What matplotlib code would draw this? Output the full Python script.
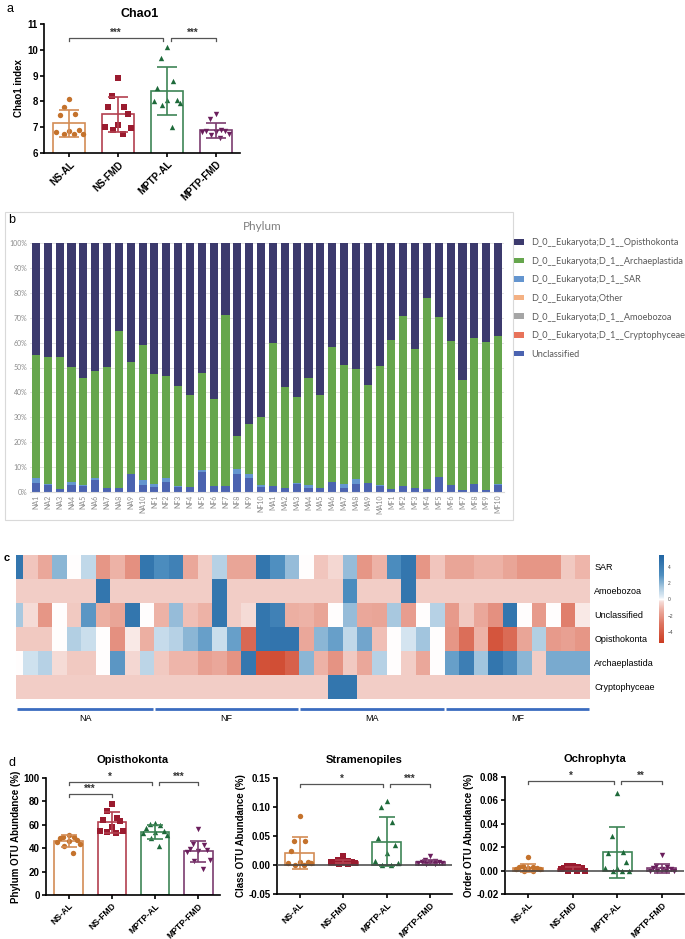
import numpy as np
import matplotlib
matplotlib.use('Agg')
import matplotlib.pyplot as plt
from matplotlib.colors import LinearSegmentedColormap
from matplotlib.patches import Rectangle, Patch

W, H = 685, 939
plt.rcParams['font.family'] = ['Liberation Sans', 'DejaVu Sans']

# ---------------- data ----------------
groups = ['NS-AL', 'NS-FMD', 'MPTP-AL', 'MPTP-FMD']

# panel a: Chao1
chao1_pts = [
    [8.1, 7.78, 7.5, 7.48, 6.88, 6.85, 6.82, 6.73, 6.73, 6.73],
    [8.9, 8.2, 7.8, 7.8, 7.5, 7.1, 7.0, 6.95, 6.9, 6.75],
    [10.1, 9.7, 8.8, 8.5, 8.05, 8.05, 8.0, 7.95, 7.85, 7.0],
    [7.5, 7.3, 6.9, 6.85, 6.85, 6.8, 6.8, 6.75, 6.7, 6.6],
]
chao1_mean = [7.15, 7.5, 8.4, 6.88]
chao1_sd = [0.52, 0.68, 0.92, 0.28]

# panel b: phylum relative abundance (%)
samples = (['NA%d' % i for i in range(1, 11)] + ['NF%d' % i for i in range(1, 11)] +
           ['MA%d' % i for i in range(1, 11)] + ['MF%d' % i for i in range(1, 11)])
unclassified_pct = [3.7, 2.9, 1.2, 2.9, 2.3, 4.8, 1.6, 1.5, 7.1, 2.7,
                    1.9, 3.9, 2.1, 2.0, 7.9, 2.3, 2.5, 7.1, 5.5, 2.0,
                    2.3, 1.6, 3.2, 1.6, 1.5, 3.9, 1.5, 3.1, 3.7, 2.3,
                    1.2, 2.4, 1.6, 1.2, 5.9, 2.7, 0.9, 3.1, 0.7, 2.8]
sar_pct = [2.0, 0.3, 0.2, 1.1, 0.6, 0.8, 0.2, 0.1, 0.1, 2.3,
           1.4, 1.7, 0.2, 0.2, 0.9, 0.1, 0.1, 2.1, 1.6, 0.9,
           0.3, 0.1, 0.4, 1.3, 0.1, 0.2, 1.6, 2.1, 0.1, 0.7,
           0.1, 0.1, 0.1, 0.1, 0.2, 0.1, 0.1, 0.2, 0.1, 0.3]
other_pct = [0.0] * 40
amoebozoa_pct = [0.0] * 40
crypto_pct = [0.0] * 40
archaeplastida_pct = [49.3, 50.9, 52.7, 46.2, 42.9, 43.0, 48.4, 63.0, 45.1, 53.9,
                      44.1, 40.9, 40.3, 36.7, 38.9, 35.1, 68.4, 13.1, 20.4, 27.3,
                      57.3, 40.4, 34.6, 42.8, 37.5, 54.0, 47.9, 44.2, 39.2, 47.5,
                      59.8, 68.1, 55.7, 76.8, 64.1, 57.7, 43.9, 58.5, 59.4, 59.5]

# panel c: heatmap (z-scores)
hm_rows = ['SAR', 'Amoebozoa', 'Unclassified', 'Opisthokonta', 'Archaeplastida', 'Cryptophyceae']
hm_sar = [4.5, -0.8, -1.5, 2, 0, 1, -2, -1.2, -2.2, 4.5,
          3.2, 3.8, -1.5, -0.6, 1.2, -1.6, -1.6, 4.5, 3, 1.8,
          0, -0.8, -0.4, 1.8, -2, -1.2, 3.2, 4.5, -2, -0.8,
          -1.6, -1.6, -1.2, -1.2, -1.6, -2, -2, -2, -0.7, -1.1]
hm_amoebozoa = [-0.6, -0.6, -0.6, -0.6, -0.6, -0.6, 4.5, -0.6, -0.6, -0.6,
                -0.6, -0.6, -0.6, -0.6, 4.5, -0.6, -0.6, -0.6, -0.6, -0.6,
                -0.6, -0.6, -0.6, 3.2, -0.6, -0.6, -0.6, 4.5, -0.6, -0.6,
                -0.6, -0.6, -0.6, -0.6, -0.6, -0.6, -0.6, -0.6, -0.6, -0.6]
hm_unclassified = [1.5, -0.3, -2, 0, -0.7, 2.8, -1.3, -1.6, 4.5, 0,
                   -1.2, 1.8, -0.9, -1.2, 4.5, -0.6, -0.3, 4.5, 3.8, -1.3,
                   -1.2, -1.6, 0, 1.8, -1.5, -1.6, 1.5, -1.8, 0, 1.2,
                   -1.9, -0.7, -1.5, -2.2, 4.5, 0, -1.9, 0, -2.7, -0.2]
hm_opisthokonta = [-0.7, -0.7, -0.7, 0, 1.3, 0.8, 0, -2.2, -0.2, -1.3,
                   0.9, 1.2, 2, 2.6, 0.8, 2.6, -3.5, 4.5, 4.6, 4.6,
                   -1.5, 2, 2.6, 1.0, 2.4, -0.9, 0, 0.6, 1.6, 0,
                   -2, -3.3, -1.2, -4.3, -3.4, -1.6, 1.3, -1.9, -1.7, -2]
hm_archaeplastida = [0, 0.7, 1.2, -0.3, -0.7, -0.7, 0, 2.8, -0.4, 1.1,
                     -0.7, -1.1, -1.1, -1.7, -1.5, -2.1, 4.4, -4.5, -4.6, -3.8,
                     2, -1.2, -2.1, -0.7, -1.5, 1.2, 0, -0.6, -1.5, 0,
                     2.6, 4, 1.6, 4.5, 3.4, 2, -0.6, 2.3, 2.3, 2.3]
hm_crypto = [-0.6] * 22 + [4.5, 4.5] + [-0.6] * 16
hm_groups = ['NA', 'NF', 'MA', 'MF']

# panel d
opis_pts = [
    [51, 50, 49.5, 48.5, 47, 46, 45.5, 44, 42, 36],
    [78, 72, 66, 64, 63, 58, 55, 54, 53, 55],
    [61.5, 60.5, 60, 57, 55, 54, 53, 51.5, 48.5, 42],
    [56, 43.5, 42.5, 39.5, 38.5, 37.5, 37, 30, 29, 22.5],
]
opis_mean = [46, 62.3, 54, 37.5]
opis_sd = [5, 9, 6, 9]

stram_pts = [
    [0.085, 0.041, 0.041, 0.024, 0.006, 0.005, 0.004, 0.003, 0.0, 0.0],
    [0.015, 0.008, 0.007, 0.006, 0.006, 0.005, 0.005, 0.003, 0.002, 0.001],
    [0.111, 0.1, 0.074, 0.046, 0.035, 0.02, 0.007, 0.004, 0.0, 0.0],
    [0.015, 0.008, 0.007, 0.006, 0.005, 0.005, 0.004, 0.003, 0.002, 0.001],
]
stram_mean = [0.021, 0.006, 0.040, 0.005]
stram_sd = [0.028, 0.003, 0.042, 0.004]

ochro_pts = [
    [0.012, 0.004, 0.003, 0.003, 0.002, 0.002, 0.001, 0.001, 0.0, 0.0],
    [0.004, 0.004, 0.003, 0.002, 0.002, 0.001, 0.001, 0.0, 0.0, 0.0],
    [0.066, 0.03, 0.016, 0.015, 0.007, 0.002, 0.002, 0.0, 0.0, 0.0],
    [0.013, 0.004, 0.003, 0.002, 0.001, 0.001, 0.0, 0.0, 0.0, 0.0],
]
ochro_mean = [0.0025, 0.0015, 0.0155, 0.002]
ochro_sd = [0.0035, 0.0015, 0.0215, 0.004]

# ---------------- style ----------------
dot_colors = ['#c4722c', '#9a1b2f', '#1e6a3a', '#6b1f5d']
edge_colors = ['#d38c55', '#b3404f', '#3e8556', '#7c3c70']
markers = ['o', 's', '^', 'v']
offsets = np.array([0.0, -0.12, 0.12, -0.2, 0.2, 0.0, -0.27, 0.27, -0.1, 0.1])
FS = 7


def px_axes(x0, y0, x1, y1):
    return fig.add_axes([x0 / W, 1 - y1 / H, (x1 - x0) / W, (y1 - y0) / H])


def dot_bar(ax, pts, means, sds, lim, ticks, labels, ylabel, cap=6, xfs=FS):
    for i in range(4):
        ax.bar(i, means[i], width=0.66, facecolor='white', edgecolor=edge_colors[i],
               linewidth=1.2, zorder=2)
        vals = np.sort(pts[i])[::-1]
        ax.scatter(i + offsets[:len(vals)], vals, marker=markers[i], s=15,
                   color=dot_colors[i], linewidths=0, zorder=3)
        ax.errorbar(i, means[i], yerr=sds[i], color=edge_colors[i], capsize=cap,
                    elinewidth=1.2, capthick=1.2, zorder=4)
    ax.set_xlim(-0.52, 3.5)
    ax.set_ylim(*lim)
    ax.set_yticks(ticks)
    ax.set_yticklabels(labels, fontsize=FS, fontweight='bold')
    ax.set_xticks(range(4))
    ax.set_xticklabels(groups, rotation=45, ha='right', rotation_mode='anchor',
                       fontsize=xfs, fontweight='bold')
    ax.set_ylabel(ylabel, fontsize=FS, fontweight='bold', labelpad=2)
    for s in ['top', 'right']:
        ax.spines[s].set_visible(False)
    for s in ['left', 'bottom']:
        ax.spines[s].set_linewidth(1.2)
    ax.tick_params(width=1.2, length=3, pad=1.5)


def bracket(ax, x1, x2, y, h, text):
    ax.plot([x1, x1, x2, x2], [y - h, y, y, y - h], color='#555555', lw=0.9,
            clip_on=False, zorder=5)
    ax.text((x1 + x2) / 2, y, text, ha='center', va='bottom', fontsize=7,
            fontweight='bold', color='#333333')


fig = plt.figure(figsize=(W / 100, H / 100), dpi=100)

# ---------------- panel a ----------------
axa = px_axes(44, 24, 240, 153)
dot_bar(axa, chao1_pts, chao1_mean, chao1_sd, (6, 11), range(6, 12),
        [str(v) for v in range(6, 12)], 'Chao1 index', cap=7)
bracket(axa, 0, 1.92, 10.46, 0.12, '***')
bracket(axa, 2.08, 3, 10.46, 0.12, '***')
fig.text(140 / W, 1 - 14 / H, 'Chao1', ha='center', va='center', fontsize=9, fontweight='bold')
fig.text(10 / W, 1 - 9 / H, 'a', ha='center', va='center', fontsize=9)

# ---------------- panel b ----------------
fig.patches.append(Rectangle((5 / W, 1 - 520 / H), 508 / W, 308 / H, transform=fig.transFigure,
                             facecolor='none', edgecolor='#d9d9d9', linewidth=0.8))
fig.text(12 / W, 1 - 220 / H, 'b', ha='center', va='center', fontsize=9)
fig.text(262 / W, 1 - 227 / H, 'Phylum', ha='center', va='center', fontsize=8.5,
         color='#7f7f7f', family=['Lato', 'DejaVu Sans'])
axb = px_axes(30, 243, 504, 492)
xb = np.arange(len(samples))
stack = [
    ('D_0__Eukaryota;D_1__Opisthokonta', None, '#3c3a6d'),
    ('D_0__Eukaryota;D_1__Archaeplastida', archaeplastida_pct, '#66a64d'),
    ('D_0__Eukaryota;D_1__SAR', sar_pct, '#6495cf'),
    ('D_0__Eukaryota;Other', other_pct, '#f4b183'),
    ('D_0__Eukaryota;D_1__Amoebozoa', amoebozoa_pct, '#a5a5a5'),
    ('D_0__Eukaryota;D_1__Cryptophyceae', crypto_pct, '#e8735a'),
    ('Unclassified', unclassified_pct, '#4b63b0'),
]
order = [6, 2, 3, 4, 5, 1]
bottom = np.zeros(len(samples))
for k in order:
    name, vals, col = stack[k]
    axb.bar(xb, vals, width=0.68, bottom=bottom, color=col, zorder=2)
    bottom = bottom + np.array(vals)
axb.bar(xb, 100 - bottom, width=0.68, bottom=bottom, color=stack[0][2], zorder=2)
axb.set_xlim(-0.5, len(samples) - 0.5)
axb.set_ylim(0, 100)
axb.set_yticks(range(0, 101, 10))
axb.set_yticklabels(['%d%%' % v for v in range(0, 101, 10)], fontsize=5,
                    color='#8c8c8c', family=['Lato', 'DejaVu Sans'])
axb.set_xticks(xb)
axb.set_xticklabels(samples, rotation=90, fontsize=5, color='#8c8c8c',
                    family=['Lato', 'DejaVu Sans'])
axb.grid(axis='y', color='#e3e3e3', linewidth=0.7, zorder=0)
axb.set_axisbelow(True)
for s in ['top', 'right', 'left']:
    axb.spines[s].set_visible(False)
axb.spines['bottom'].set_color('#d9d9d9')
axb.tick_params(length=0, pad=2)
handles = [Patch(facecolor=c, label=n) for n, v, c in stack]
fig.legend(handles=handles, loc='upper left', bbox_to_anchor=(514 / W, 1 - 238 / H),
           frameon=False, handlelength=1.1, handleheight=0.55,
           handletextpad=0.75, labelspacing=1.05, borderpad=0, borderaxespad=0,
           labelcolor='#595959', prop={'family': ['Lato', 'DejaVu Sans'], 'size': 6.6})

# ---------------- panel c ----------------
fig.text(7 / W, 1 - 558 / H, 'c', ha='center', va='center', fontsize=8, fontweight='bold')
axc = px_axes(16, 555, 590, 699)
hm = np.array([hm_sar, hm_amoebozoa, hm_unclassified, hm_opisthokonta, hm_archaeplastida, hm_crypto])
vmin, vmax = -5.4, 5.5
nodes = [(-5.4, '#cc3b20'), (-3.0, '#dd7561'), (-1.2, '#edb2a6'), (-0.3, '#f5dcd7'),
         (0.0, '#ffffff'), (0.3, '#e2edf5'), (1.5, '#a9c9e0'), (3.0, '#4f8fc0'), (5.5, '#2165a3')]
cmap = LinearSegmentedColormap.from_list(
    'hm', [((v - vmin) / (vmax - vmin), c) for v, c in nodes])
mesh = axc.pcolormesh(np.arange(41), np.arange(7), hm, cmap=cmap, vmin=vmin, vmax=vmax)
axc.set_xlim(0.5, 40)
axc.set_ylim(6, 0)
axc.set_xticks([])
axc.yaxis.tick_right()
axc.set_yticks(np.arange(6) + 0.5)
axc.set_yticklabels(hm_rows, fontsize=6.5)
axc.tick_params(length=0, pad=3)
for s in axc.spines.values():
    s.set_visible(False)
for g, name in enumerate(hm_groups):
    x0 = max(g * 10, 0.5) + 0.06
    x1 = g * 10 + 10 - 0.06
    axc.plot([x0, x1], [6.42, 6.42], color='#3b6cc0', lw=2, clip_on=False, solid_capstyle='butt')
    axc.text((x0 + x1) / 2, 6.8, name, ha='center', va='center', fontsize=6.5)
cax = px_axes(659, 555, 664, 643)
cb = fig.colorbar(mesh, cax=cax, ticks=[-4, -2, 0, 2, 4])
cb.outline.set_visible(False)
cb.ax.tick_params(labelsize=3.5, length=1.5, color='white', labelcolor='#444444', pad=1)

# ---------------- panel d ----------------
fig.text(12 / W, 1 - 763 / H, 'd', ha='center', va='center', fontsize=9)
axd1 = px_axes(46, 778, 220, 895)
dot_bar(axd1, opis_pts, opis_mean, opis_sd, (0, 100), range(0, 101, 20),
        [str(v) for v in range(0, 101, 20)], 'Phylum OTU Abundance (%)', xfs=6.2)
bracket(axd1, 0, 1.92, 97, 3, '*')
bracket(axd1, 0, 1, 86.5, 3, '***')
bracket(axd1, 2.08, 3, 97, 3, '***')
axd1.set_title('Opisthokonta', fontsize=8, fontweight='bold', pad=11)

axd2 = px_axes(277, 778, 452, 894)
stram_ticks = [-0.05, 0.0, 0.05, 0.10, 0.15]
dot_bar(axd2, stram_pts, stram_mean, stram_sd, (-0.05, 0.15), stram_ticks,
        ['%.2f' % v for v in stram_ticks], 'Class OTU Abundance (%)', xfs=6.2)
axd2.axhline(0, color='#444444', lw=1.1, zorder=5)
bracket(axd2, 0, 1.92, 0.14, 0.005, '*')
bracket(axd2, 2.08, 3, 0.14, 0.005, '***')
axd2.set_title('Stramenopiles', fontsize=8, fontweight='bold', pad=11)

axd3 = px_axes(505, 777, 684, 894)
ochro_ticks = [-0.02, 0.0, 0.02, 0.04, 0.06, 0.08]
dot_bar(axd3, ochro_pts, ochro_mean, ochro_sd, (-0.02, 0.08), ochro_ticks,
        ['%.2f' % v for v in ochro_ticks], 'Order OTU Abundance (%)', xfs=6.2)
axd3.axhline(0, color='#444444', lw=1.1, zorder=5)
bracket(axd3, 0, 1.92, 0.0765, 0.0025, '*')
bracket(axd3, 2.08, 3, 0.0765, 0.0025, '**')
axd3.set_title('Ochrophyta', fontsize=8, fontweight='bold', pad=11)

fig.savefig('out.png', dpi=100)
